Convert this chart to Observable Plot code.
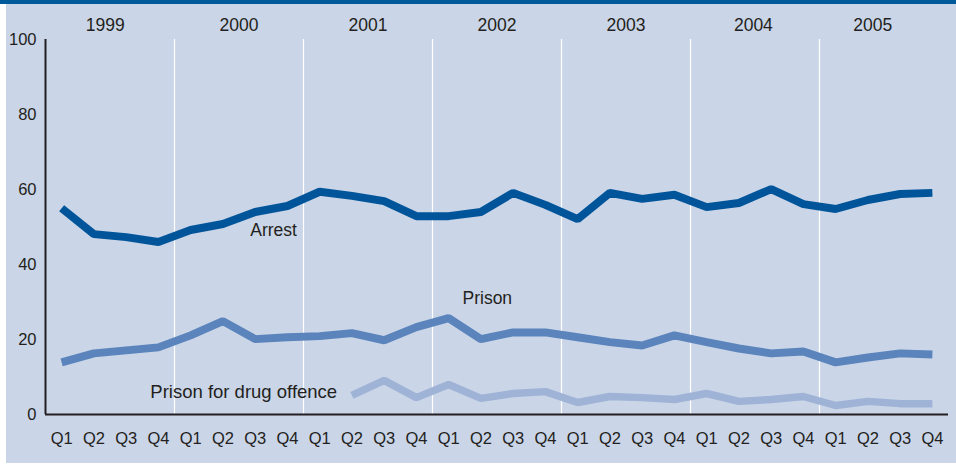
<!DOCTYPE html>
<html>
<head>
<meta charset="utf-8">
<script src="https://cdn.jsdelivr.net/npm/d3@7"></script>
<script src="https://cdn.jsdelivr.net/npm/@observablehq/plot@0.6"></script>
<style>
  html, body { margin: 0; padding: 0; background: #ffffff; }
  #page { position: relative; width: 956px; height: 468px; overflow: hidden; }
  #topbar { position: absolute; left: 0; top: 0; width: 956px; height: 4px; background: #00599b; }
  #panel { position: absolute; left: 6px; top: 4px; width: 950px; height: 459px; background: #cad5e7; }
  #panel svg { display: block; }
</style>
</head>
<body>
<div id="page">
  <div id="topbar"></div>
  <div id="panel"></div>
</div>
<script>
// ---- data ----
const years = ["1999", "2000", "2001", "2002", "2003", "2004", "2005"];
const quarterNames = ["Q1", "Q2", "Q3", "Q4"];
const arrest = [55, 48.1, 47.3, 46, 49.2, 50.8, 54, 55.6, 59.4, 58.3, 56.9, 52.9, 52.9, 54, 59.1, 55.9, 52.1, 59.1, 57.5, 58.6, 55.3, 56.4, 60.1, 56.1, 54.8, 57.2, 58.8, 59.1];
const prison = [13.9, 16.3, 17.1, 17.9, 21.1, 24.9, 20.1, 20.6, 20.9, 21.7, 19.8, 23.3, 25.7, 20.1, 21.9, 21.9, 20.6, 19.3, 18.4, 21.1, 19.3, 17.6, 16.3, 16.8, 13.9, 15.2, 16.3, 16];
const drug = [null, null, null, null, null, null, null, null, null, 5.1, 9.1, 4.5, 8.0, 4.3, 5.6, 6.1, 3.2, 4.8, 4.5, 4.0, 5.6, 3.5, 4.0, 4.8, 2.4, 3.5, 2.9, 2.9];
const yTicks = [0, 20, 40, 60, 80, 100];
// label anchors in chart units (quarter index, percent)
const seriesLabels = [
  {text: "Arrest", x: 5.85, y: 49, size: 17.5},
  {text: "Prison", x: 12.43, y: 30.9, size: 17.5},
  {text: "Prison for drug offence", x: 2.75, y: 6.1, size: 18.5}
];
const yearLabelX = [1.35, 5.5, 9.5, 13.5, 17.5, 21.45, 25.15];

// ---- derived tables ----
const quarters = years.flatMap(y => quarterNames.map(q => ({year: y, q})));
const rows = quarters.map((d, i) => ({i, arrest: arrest[i], prison: prison[i], drug: drug[i]}));
const yearBreaks = years.slice(1).map((_, k) => 4 * (k + 1) - 0.5);
const yearRows = years.map((y, k) => ({year: y, x: yearLabelX[k]}));

const ink = "#231f20";
const font = "'Liberation Sans', Arial, Helvetica, sans-serif";
const narrow = "'Liberation Sans Narrow', 'Arial Narrow', 'Liberation Sans', sans-serif";

const chart = Plot.plot({
  width: 950,
  height: 459,
  marginLeft: 39,
  marginRight: 8,
  marginTop: 35,
  marginBottom: 49,
  style: {background: "transparent", fontFamily: font, color: ink},
  x: {domain: [-0.5, quarters.length - 0.5], axis: null},
  y: {domain: [0, 100], axis: null},
  marks: [
    Plot.ruleX(yearBreaks, {y1: 0, y2: 100, stroke: "#ffffff", strokeWidth: 1.2}),
    Plot.line(rows, {x: "i", y: "drug", stroke: "#9fb3d7", strokeWidth: 7.5, strokeLinejoin: "miter", strokeLinecap: "butt"}),
    Plot.line(rows, {x: "i", y: "prison", stroke: "#5a84bb", strokeWidth: 8, strokeLinejoin: "miter", strokeLinecap: "butt"}),
    Plot.line(rows, {x: "i", y: "arrest", stroke: "#00559a", strokeWidth: 8, strokeLinejoin: "miter", strokeLinecap: "butt"}),
    Plot.ruleX([-0.5], {y1: 0, y2: 100, stroke: ink, strokeWidth: 2}),
    Plot.ruleY([0], {stroke: ink, strokeWidth: 2}),
    Plot.axisY({ticks: yTicks, tickSize: 0, tickPadding: 9, fontSize: 16.5, fill: ink, label: null}),
    Plot.axisX({ticks: d3.range(quarters.length), tickFormat: i => quarters[i].q, tickSize: 0, tickPadding: 18, fontSize: 16.5, fontFamily: narrow, fill: ink, label: null}),
    Plot.text(yearRows, {x: "x", y: () => 100, text: "year", dy: -14, fontSize: 17.5, fill: ink}),
    ...seriesLabels.map(d => Plot.text([d], {x: "x", y: "y", text: "text", textAnchor: "start", fontSize: d.size, fill: ink}))
  ]
});
document.getElementById("panel").appendChild(chart);
</script>
</body>
</html>
